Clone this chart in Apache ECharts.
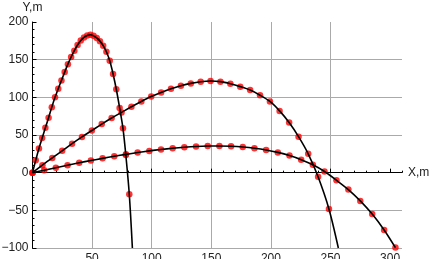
<!DOCTYPE html>
<html>
<head>
<meta charset="utf-8">
<script src="https://cdn.jsdelivr.net/npm/echarts@6/dist/echarts.min.js"></script>
<style>
html,body{margin:0;padding:0;background:#fff;}
#c{width:433px;height:259px;}
</style>
</head>
<body>
<div id="c"></div>
<script>
// ---- data ----
const steepDots = [[0,0],[2.7,16.5],[5.4,32],[8.1,46],[10.8,59.5],[13.5,73],[16.2,87],[18.9,100],[21.6,111.5],[24.3,122.5],[27,133.5],[29.7,144],[32.4,153.5],[35.1,162],[37.8,169.5],[40.5,175.5],[43.2,179.5],[45.9,182],[48.6,183],[51.2,181.6],[53.9,178.8],[56.6,174.6],[59.3,168.6],[62,160.5],[64.8,148.5],[67.6,131],[70.3,110.7],[73.1,86],[75.9,58.9],[78.3,23.5],[81.2,-28.7]];
const steepTail = [[83.8,-100]];
const mediumDots = [[0,0],[8.3,10],[16.6,19.5],[24.9,29],[33.2,38.5],[41.5,47.5],[49.8,56],[58.1,64.5],[66.4,72.5],[74.7,80],[83,87.5],[91.3,94.5],[99.6,101],[107.9,106.5],[116.2,111.3],[124.5,115.3],[132.8,118.5],[141.1,120.7],[149.4,121.6],[157.7,120.8],[166,118],[174.3,114.2],[182.6,109.6],[190.9,102.8],[199.2,94.5],[207.3,82],[215.3,66.5],[223.2,47.8],[231.3,25],[239.6,-5.5],[248.7,-48.2]];
const mediumTail = [[256.6,-100]];
const lowDots = [[0,0],[9.8,3.2],[19.6,6.6],[29.4,9.9],[39.2,13.1],[49,16.1],[58.8,19],[68.6,21.7],[78.4,24.3],[88.2,26.7],[98,28.9],[107.8,30.8],[117.6,32.4],[127.4,33.7],[137.2,34.7],[147,35.3],[156.8,35.4],[166.6,35],[176.4,34],[186.2,32.4],[196,30.1],[205.8,26.9],[215.6,22.7],[225.4,17.3],[235.2,10.4],[245,1.5],[255,-10],[265,-22.5],[275,-37.5],[285,-55],[295,-76],[304.5,-99.5]];
const lowTail = [];
const xMajorTicks = [0,50,100,150,200,250,300];
const xTickLabels = [50,100,150,200,250,300];
const yMajorTicks = [-100,-50,0,50,100,150,200];
const xName = 'X,m';
const yName = 'Y,m';

const FONT = '"Liberation Sans", Arial, sans-serif';
const chart = echarts.init(document.getElementById('c'), null, {renderer:'canvas'});

function dotSeries(data){
  return {type:'scatter', data:data, symbol:'circle', symbolSize:6.5,
    itemStyle:{color:'#ff0000'}, z:2, silent:true};
}
function curveSeries(data){
  return {type:'line', data:data, smooth:0.3, showSymbol:false, clip:true,
    lineStyle:{color:'#000', width:1.6}, z:3, silent:true};
}

const option = {
  animation:false,
  grid:{left:32.5, right:31, top:22, bottom:11, outerBoundsMode:'none', containLabel:false},
  xAxis:[
    {type:'value', min:0, max:310, interval:50,
     name:xName, nameLocation:'end', nameGap:6, nameMoveOverlap:false,
     nameTextStyle:{fontFamily:FONT, fontSize:12, color:'#222'},
     axisLine:{show:true, onZero:true, onZeroAxisIndex:0, lineStyle:{color:'#000', width:1}},
     axisTick:{show:true, inside:true, length:4, customValues:xMajorTicks, lineStyle:{color:'#000'}},
     axisLabel:{show:true, customValues:xTickLabels, margin:5, fontFamily:FONT, fontSize:12, color:'#222'},
     splitLine:{show:true, showMinLine:false, showMaxLine:false, lineStyle:{color:'#aaa', width:1}}},
    {type:'value', min:0, max:310, interval:10, position:'bottom',
     axisLine:{show:false, onZero:true, onZeroAxisIndex:0},
     axisTick:{show:true, inside:true, length:2, lineStyle:{color:'#000'}},
     axisLabel:{show:false}, splitLine:{show:false}}
  ],
  yAxis:[
    {type:'value', min:-100, max:200, interval:50,
     name:yName, nameLocation:'end', nameGap:8, nameMoveOverlap:false,
     nameTextStyle:{fontFamily:FONT, fontSize:12, color:'#222', align:'center'},
     axisLine:{show:true, onZero:true, onZeroAxisIndex:0, lineStyle:{color:'#000', width:1}},
     axisTick:{show:true, inside:true, length:4, customValues:yMajorTicks, lineStyle:{color:'#000'}},
     axisLabel:{show:true, customValues:yMajorTicks, margin:4, fontFamily:FONT, fontSize:12, color:'#222',
       formatter:function(v){ return v < 0 ? '\u2212' + (-v) : String(v); }},
     splitLine:{show:true, showMinLine:true, showMaxLine:false, lineStyle:{color:'#aaa', width:1}}},
    {type:'value', min:-100, max:200, interval:10, position:'left',
     axisLine:{show:false, onZero:true, onZeroAxisIndex:0},
     axisTick:{show:true, inside:true, length:2, lineStyle:{color:'#000'}},
     axisLabel:{show:false}, splitLine:{show:false}}
  ],
  series:[
    dotSeries(steepDots), dotSeries(mediumDots), dotSeries(lowDots),
    curveSeries(steepDots.concat(steepTail)),
    curveSeries(mediumDots.concat(mediumTail)),
    curveSeries(lowDots.concat(lowTail))
  ]
};
chart.setOption(option);
</script>
</body>
</html>
